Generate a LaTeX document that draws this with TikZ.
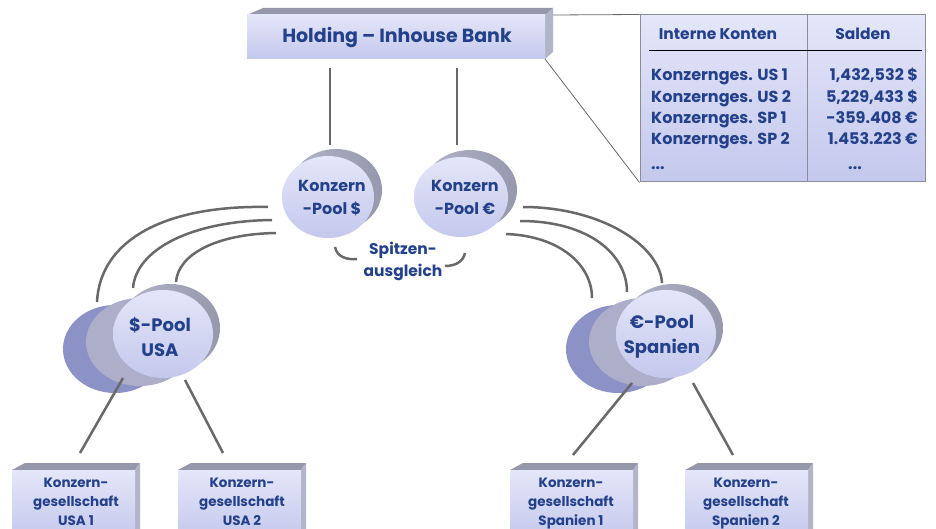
\documentclass[tikz,border=0pt]{standalone}
\usepackage{fontspec}
\setmainfont{Poppins}
\usetikzlibrary{shapes.geometric}
\definecolor{tx}{RGB}{35,64,138}
\definecolor{faceA}{RGB}{228,230,249}
\definecolor{faceB}{RGB}{196,200,236}
\definecolor{sidegray}{RGB}{178,180,200}
\definecolor{sidedark}{RGB}{150,152,174}
\definecolor{topgray}{RGB}{150,151,170}
\definecolor{darkpool}{RGB}{140,146,198}
\definecolor{midpool}{RGB}{172,174,202}
\definecolor{conn}{RGB}{105,105,105}
\definecolor{frame}{RGB}{140,140,150}
\tikzset{
  txt/.style={text=tx, align=center, inner sep=0pt},
  face/.style={top color=faceA, bottom color=faceB, draw=none},
  conline/.style={draw=conn, line width=2.5pt},
  thinline/.style={draw=conn, line width=0.8pt},
  topface/.style={fill=topgray, draw=none},
  sideface/.style={fill=sidegray, draw=none},
  poolface/.style={ellipse, face, inner sep=0pt},
  poolside/.style={ellipse, left color=sidegray, right color=sidedark, draw=none, inner sep=0pt},
  companybox/.style={rectangle, face, minimum width=123pt, minimum height=70pt, inner sep=0pt},
}
\newcommand{\fs}[2]{\fontsize{#1}{#2}\selectfont\bfseries}
\begin{document}
\begin{tikzpicture}[x=1pt,y=-1pt]
\clip (0,0) rectangle (936,529);
\fill[white] (0,0) rectangle (936,529);

% ---------- Holding box ----------
\fill[topface] (247,15) -- (263,8) -- (553,8) -- (545,15) -- cycle;
\fill[sideface] (545,15) -- (553,8) -- (553,52) -- (545,59) -- cycle;
\node[rectangle, face, minimum width=298pt, minimum height=44pt, inner sep=0pt] (hold) at (396,37) {};
\node[txt, font=\fs{19}{22}] (holdt) at (397,38) {Holding -- Inhouse Bank};

% ---------- Table ----------
\coordinate (holdtr) at (553,15);
\coordinate (holdbr) at (545,59);
\node[rectangle, top color=faceA, bottom color=faceB, draw=frame, line width=1pt,
      minimum width=285pt, minimum height=167pt, inner sep=0pt] (tab) at (782.5,98.5) {};
\draw[thinline] (holdtr) -- (tab.north west);
\draw[thinline] (holdbr) -- (tab.south west);
\draw[draw=frame, line width=1pt] (tab.north west -| 807,0) -- (tab.south west -| 807,0);
\draw[black, line width=0.9pt] (649,50) -- (922,50);
\node[txt, font=\fs{15.5}{18}] (h1) at (718,34) {Interne Konten};
\node[txt, font=\fs{15.5}{18}] (h2) at (863,34) {Salden};
\node[txt, font=\fs{16}{18}, anchor=base west] (r1) at (651,81) {Konzernges. US 1};
\node[txt, font=\fs{16}{18}, anchor=base west] (r2) at (651,103) {Konzernges. US 2};
\node[txt, font=\fs{16}{18}, anchor=base west] (r3) at (651,124) {Konzernges. SP 1};
\node[txt, font=\fs{16}{18}, anchor=base west] (r4) at (651,145) {Konzernges. SP 2};
\node[txt, font=\fs{16}{18}, anchor=base west] (r5) at (651,170) {...};
\node[txt, font=\fs{16}{18}, anchor=base east] (s1) at (918,81) {1,432,532 \$};
\node[txt, font=\fs{16}{18}, anchor=base east] (s2) at (918,103) {5,229,433 \$};
\node[txt, font=\fs{16}{18}, anchor=base east] (s3) at (918,124) {-359.408 €};
\node[txt, font=\fs{16}{18}, anchor=base east] (s4) at (918,145) {1.453.223 €};
\node[txt, font=\fs{16}{18}, anchor=base] (s5) at (855,170) {...};

% ---------- Konzern pools ----------
\node[poolside, minimum width=92pt, minimum height=82pt] (kpdb) at (336,190) {};
\node[poolface, minimum width=92pt, minimum height=82pt] (kpd) at (328,197) {};
\node[txt, font=\fs{16}{23}] (kpdt) at (332,198) {Konzern\\-Pool \$};

\node[poolside, minimum width=94pt, minimum height=80pt] (kpeb) at (470,190) {};
\node[poolface, minimum width=94pt, minimum height=80pt] (kpe) at (461,197) {};
\node[txt, font=\fs{16}{23}] (kpet) at (465,197) {Konzern\\-Pool €};

% connectors Holding -> Konzern pools
\coordinate (ha) at (330,68);  \coordinate (hb) at (330,145);
\coordinate (hc) at (457,68);  \coordinate (hd) at (457,145);
\draw[conline] (ha) -- (hb);
\draw[conline] (hc) -- (hd);

% Spitzenausgleich
\node[txt, font=\fs{15.5}{22}] (spitz) at (403,261) {Spitzen-\\ausgleich};
\coordinate (sa1) at (335,247); \coordinate (sa2) at (357,259);
\coordinate (sb1) at (465,253); \coordinate (sb2) at (445,266);
\draw[conline] (sa1) .. controls (337,257) and (347,260) .. (sa2);
\draw[conline] (sb1) .. controls (463,262) and (455,266) .. (sb2);

% arcs to $-Pool USA
\coordinate (la1) at (268,207); \coordinate (la2) at (97,302);
\coordinate (lb1) at (272,220); \coordinate (lb2) at (133,288);
\coordinate (lc1) at (276,233); \coordinate (lc2) at (176,282);
\draw[conline] (la1) .. controls (165,205) and (100,240) .. (la2);
\draw[conline] (lb1) .. controls (190,221) and (136,250) .. (lb2);
\draw[conline] (lc1) .. controls (215,234) and (178,255) .. (lc2);

% arcs to €-Pool Spanien
\coordinate (ra1) at (523,207); \coordinate (ra2) at (662,283);
\coordinate (rb1) at (520,221); \coordinate (rb2) at (627,292);
\coordinate (rc1) at (506,234); \coordinate (rc2) at (592,298);
\draw[conline] (ra1) .. controls (600,207) and (660,245) .. (ra2);
\draw[conline] (rb1) .. controls (590,221) and (627,255) .. (rb2);
\draw[conline] (rc1) .. controls (560,236) and (592,265) .. (rc2);

% ---------- $-Pool USA ----------
\node[ellipse, fill=darkpool, draw=none, minimum width=104pt, minimum height=88pt] (usad) at (115,349) {};
\node[ellipse, fill=midpool, draw=none, minimum width=108pt, minimum height=88pt] (usam) at (140,342) {};
\node[poolside, minimum width=100pt, minimum height=88pt] (usab) at (170,328) {};
\node[poolface, minimum width=100pt, minimum height=88pt] (usa) at (163,334) {};
\node[txt, font=\fs{18}{25}] (usat) at (160,337) {\$-Pool\\USA};

% ---------- €-Pool Spanien ----------
\node[ellipse, fill=darkpool, draw=none, minimum width=104pt, minimum height=88pt] (spd) at (618,349) {};
\node[ellipse, fill=midpool, draw=none, minimum width=108pt, minimum height=88pt] (spm) at (643,342) {};
\node[poolside, minimum width=100pt, minimum height=88pt] (spb) at (673,328) {};
\node[poolface, minimum width=100pt, minimum height=88pt] (sp) at (666,334) {};
\node[txt, font=\fs{18}{25}] (spt) at (662,337) {€-Pool\\Spanien};

% connectors pools -> companies
\coordinate (u1a) at (123,378); \coordinate (u1b) at (80,453);
\coordinate (u2a) at (185,380); \coordinate (u2b) at (223,453);
\coordinate (e1a) at (632,383); \coordinate (e1b) at (573,455);
\coordinate (e2a) at (693,383); \coordinate (e2b) at (733,455);
\draw[conline] (u1a) -- (u1b);
\draw[conline] (u2a) -- (u2b);
\draw[conline] (e1a) -- (e1b);
\draw[conline] (e2a) -- (e2b);

% ---------- company boxes ----------
\foreach \x/\nm in {12/c1, 178/c2, 510/c3, 685/c4}{
  \fill[topface] (\x,470) -- (\x+13,463) -- (\x+128,463) -- (\x+123,470) -- cycle;
  \fill[sideface] (\x+123,470) -- (\x+128,463) -- (\x+128,535) -- (\x+123,535) -- cycle;
  \node[companybox] (\nm) at (\x+61.5,505) {};
}
\node[txt, font=\fs{13.5}{19}, anchor=base] (c1t) at (76,525) {Konzern-\\gesellschaft\\USA 1};
\node[txt, font=\fs{13.5}{19}, anchor=base] (c2t) at (242,525) {Konzern-\\gesellschaft\\USA 2};
\node[txt, font=\fs{13.5}{19}, anchor=base] (c3t) at (571,525) {Konzern-\\gesellschaft\\Spanien 1};
\node[txt, font=\fs{13.5}{19}, anchor=base] (c4t) at (746,525) {Konzern-\\gesellschaft\\Spanien 2};
\end{tikzpicture}
\end{document}
